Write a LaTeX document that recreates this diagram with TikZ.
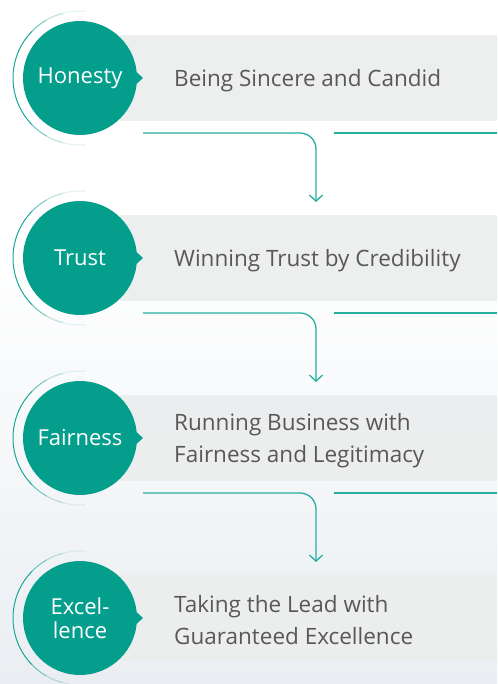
\documentclass[tikz,border=0pt]{standalone}
\usepackage{fontspec}
\setmainfont{Open Sans}
\usetikzlibrary{arrows.meta}
\definecolor{teal1}{RGB}{4,158,140}
\definecolor{tealline}{RGB}{38,174,158}
\definecolor{band}{RGB}{236,237,237}
\definecolor{txt}{RGB}{88,88,88}
\definecolor{bgbot}{RGB}{234,238,242}
\begin{document}
\begin{tikzpicture}[x=1pt,y=-1pt,
  bubble/.style={circle,fill=teal1,minimum size=114pt,inner sep=0pt,text=white,font=\fontsize{22}{24}\selectfont,align=center},
  desc/.style={anchor=west,text=txt,font=\fontsize{22.5}{32}\selectfont,align=left,inner sep=0pt,yshift=-2.5pt},
  bandbox/.style={fill=band,fill opacity=0.92},
  flow/.style={draw=tealline,line width=1.3pt},
  arr/.style={flow,-{Straight Barb[length=6pt,width=13pt,line width=1.3pt]}},
  ring/.style={line width=1pt,draw=teal1}
]
\useasboundingbox (0,0) rectangle (497,684);
\shade[top color=white,bottom color=bgbot] (0,250) rectangle (497,684);
\fill[white] (0,0) rectangle (497,250.5);

\foreach \i/\lab/\txt in {0/Honesty/{Being Sincere and Candid},1/Trust/{Winning Trust by Credibility},2/Fairness/{Running Business with\\Fairness and Legitimacy},3/{Excel-\\lence}/{Taking the Lead with\\Guaranteed Excellence}}{
  \pgfmathsetmacro{\cy}{78+180*\i}
  \fill[bandbox] (120,\cy-43) rectangle (497,\cy+43);
  % outer ring
  \foreach \a/\b/\o in {85/105/0.12,105/120/0.3,120/135/0.55,135/225/0.9,225/240/0.55,240/255/0.3,255/275/0.12}{
    \draw[ring,draw opacity=\o] (80,\cy) ++(\a:67) arc[start angle=\a,end angle=\b,radius=67];
  }
  \fill[teal1] (132,\cy-10) -- (143,\cy) -- (132,\cy+10) -- cycle;
  \node[bubble] (c\i) at (80,\cy) {\lab};
  \node[desc] (d\i) at (174,\cy) {\txt};
}

\foreach \i in {0,1,2}{
  \pgfmathsetmacro{\ly}{133+180*\i}
  \coordinate (s\i) at (143,\ly);
  \coordinate (t\i) at (316,\ly+69);
  \coordinate (r\i) at (334,\ly);
  \coordinate (e\i) at (497,\ly);
  \draw[arr,rounded corners=16pt] (s\i) -| (t\i);
  \draw[flow] (r\i) -- (e\i);
}
\end{tikzpicture}
\end{document}
